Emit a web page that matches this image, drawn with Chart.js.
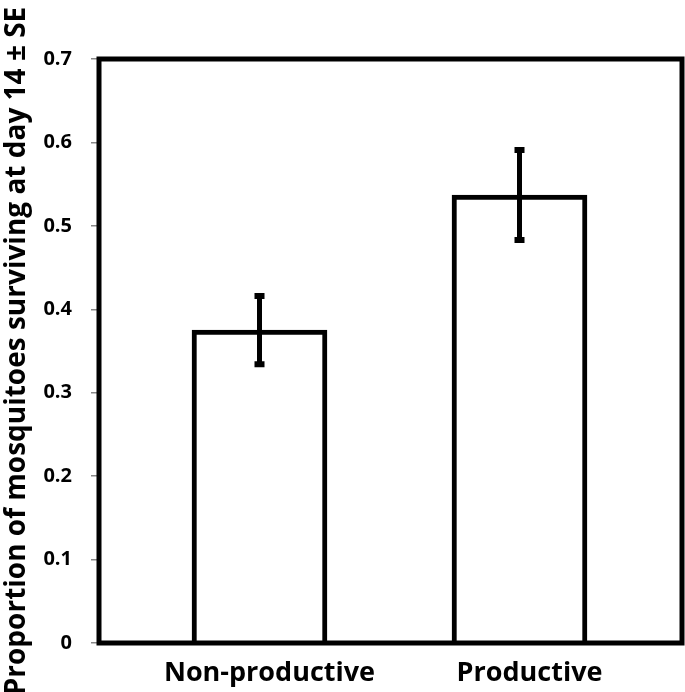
<!DOCTYPE html>
<html>
<head>
<meta charset="utf-8">
<script src="https://cdn.jsdelivr.net/npm/chart.js@4.4.1/dist/chart.umd.min.js"></script>
<style>
  html, body { margin: 0; padding: 0; background: #fff; }
  #wrap { width: 685px; height: 692px; }
</style>
</head>
<body>
<div id="wrap"><canvas id="survivalChart" width="685" height="692"></canvas></div>
<script>
// Data
const categories = ['Non-productive', 'Productive'];
const means = [0.375, 0.537];
const stdErrors = [0.041, 0.054];
const yTicks = [0, 0.1, 0.2, 0.3, 0.4, 0.5, 0.6, 0.7];

const FONT = "'Open Sans', 'DejaVu Sans', sans-serif";

// Frame round the plot area plus error bars
const frameAndErrors = {
    id: 'frameAndErrors',
    afterDatasetsDraw(chart) {
        const { ctx, chartArea: a, scales } = chart;
        ctx.save();
        ctx.strokeStyle = '#000';
        ctx.lineWidth = 5;
        ctx.lineJoin = 'miter';
        ctx.strokeRect(a.left + 2, a.top, a.right - a.left - 2, a.bottom - a.top);

        means.forEach((m, i) => {
            const x = scales.x.getPixelForValue(i);
            const yTop = scales.y.getPixelForValue(m + stdErrors[i]);
            const yBot = scales.y.getPixelForValue(m - stdErrors[i]);
            ctx.lineWidth = 5;
            ctx.beginPath();
            ctx.moveTo(x, yTop);
            ctx.lineTo(x, yBot);
            ctx.stroke();
            ctx.lineWidth = 6;
            ctx.beginPath();
            ctx.moveTo(x - 5, yTop);
            ctx.lineTo(x + 5, yTop);
            ctx.moveTo(x - 5, yBot);
            ctx.lineTo(x + 5, yBot);
            ctx.stroke();
        });
        ctx.restore();
    }
};

new Chart(document.getElementById('survivalChart'), {
    type: 'bar',
    data: {
        datasets: [{
            data: means.map((v, i) => ({ x: i, y: v })),
            backgroundColor: '#fff',
            borderColor: '#000',
            borderWidth: { top: 5, left: 5, right: 5, bottom: 0 },
            borderSkipped: false,
            barThickness: 135
        }]
    },
    options: {
        responsive: false,
        animation: false,
        layout: { padding: { top: 59, right: 3, left: 0, bottom: 0 } },
        plugins: { legend: { display: false }, tooltip: { enabled: false } },
        scales: {
            x: {
                type: 'linear',
                offset: false,
                min: -0.625,
                max: 1.625,
                afterFit: s => { s.height = 49; },
                afterBuildTicks: s => { s.ticks = categories.map((c, i) => ({ value: i })); },
                grid: { display: false, offset: false },
                border: { display: false },
                ticks: {
                    padding: 6,
                    labelOffset: 10,
                    color: '#000',
                    font: { family: FONT, size: 27, weight: 'bold' },
                    callback: v => categories[v]
                }
            },
            y: {
                min: 0,
                max: 0.7,
                afterFit: s => { s.width = 97; },
                afterBuildTicks: s => { s.ticks = yTicks.map(v => ({ value: v })); },
                grid: { drawOnChartArea: false, tickLength: 6, color: '#888', lineWidth: 1.5 },
                border: { display: true, color: '#888', width: 1 },
                ticks: {
                    padding: 19,
                    color: '#000',
                    font: { family: FONT, size: 20, weight: 'bold' },
                    callback: v => String(v)
                },
                title: {
                    display: true,
                    text: 'Proportion of mosquitoes surviving at day 14 ± SE',
                    color: '#000',
                    padding: { top: 0, bottom: 0 },
                    font: { family: FONT, size: 28, weight: 'bold' }
                }
            }
        }
    },
    plugins: [frameAndErrors]
});
</script>
</body>
</html>
